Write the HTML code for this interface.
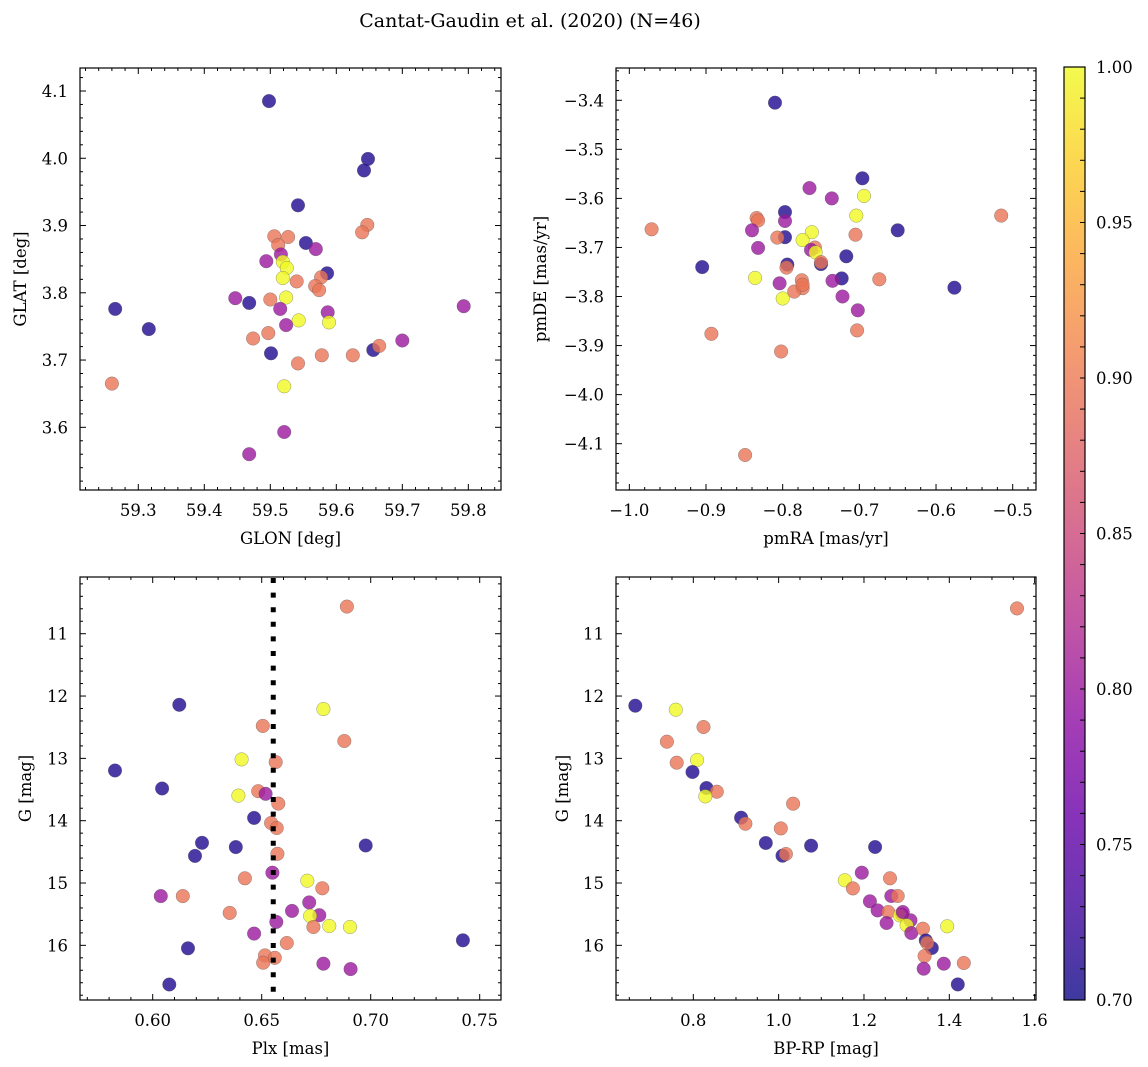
<!DOCTYPE html>
<html><head><meta charset="utf-8">
<style>
html,body{margin:0;padding:0;background:#fff;}
svg{display:block;font-family:"DejaVu Serif","Liberation Serif",serif;}
</style></head>
<body>
<svg id="fig" width="1148" height="1067" viewBox="0 0 1148 1067" xmlns="http://www.w3.org/2000/svg">
<defs>
<linearGradient id="cbgrad" x1="0" y1="1" x2="0" y2="0">
<stop offset="0" stop-color="#0d0887"/><stop offset="0.1" stop-color="#41049d"/><stop offset="0.2" stop-color="#6a00a8"/><stop offset="0.3" stop-color="#8f0da4"/><stop offset="0.4" stop-color="#b12a90"/><stop offset="0.5" stop-color="#cc4778"/><stop offset="0.6" stop-color="#e16462"/><stop offset="0.7" stop-color="#f2844b"/><stop offset="0.8" stop-color="#fca636"/><stop offset="0.9" stop-color="#fcce25"/><stop offset="1" stop-color="#f0f921"/>
</linearGradient>
</defs>
<text x="530" y="27" text-anchor="middle" font-size="19">Cantat-Gaudin et al. (2020) (N=46)</text>
</svg>
<script>
// ---- data: top-left (GLON vs GLAT)
const tlGlon=[59.506,59.527,59.512,59.554,59.569,59.516,59.494,59.519,59.525,59.519,59.540,59.586,59.577,59.568,59.574,59.647,59.639,59.447,59.468,59.500,59.524,59.515,59.587,59.589,59.543,59.524,59.497,59.474,59.501,59.542,59.578,59.625,59.656,59.665,59.700,59.498,59.648,59.642,59.265,59.316,59.260,59.521,59.521,59.468,59.793,59.542];
const tlGlat=[3.884,3.883,3.871,3.874,3.865,3.857,3.847,3.846,3.837,3.822,3.817,3.829,3.823,3.810,3.804,3.901,3.890,3.792,3.785,3.790,3.793,3.776,3.771,3.756,3.759,3.752,3.740,3.732,3.710,3.695,3.707,3.707,3.715,3.721,3.729,4.085,3.999,3.982,3.776,3.746,3.665,3.661,3.593,3.560,3.780,3.930];
const tlProb=[0.895,0.895,0.895,0.71,0.8,0.8,0.8,1.0,1.0,1.0,0.895,0.71,0.895,0.895,0.895,0.895,0.895,0.8,0.71,0.895,1.0,0.8,0.8,1.0,1.0,0.8,0.895,0.895,0.71,0.895,0.895,0.895,0.71,0.895,0.8,0.71,0.71,0.71,0.71,0.71,0.895,1.0,0.8,0.8,0.8,0.71];
// ---- data: top-right (pmRA vs pmDE)
const trPmra=[-0.810,-0.696,-0.765,-0.736,-0.694,-0.704,-0.515,-0.797,-0.797,-0.834,-0.832,-0.971,-0.840,-0.650,-0.797,-0.807,-0.705,-0.762,-0.774,-0.758,-0.763,-0.757,-0.832,-0.717,-0.750,-0.750,-0.794,-0.795,-0.905,-0.836,-0.723,-0.735,-0.674,-0.576,-0.804,-0.775,-0.774,-0.785,-0.800,-0.722,-0.702,-0.703,-0.893,-0.802,-0.849,-0.774];
const trPmde=[-3.405,-3.559,-3.579,-3.600,-3.595,-3.635,-3.635,-3.628,-3.646,-3.640,-3.645,-3.663,-3.665,-3.665,-3.679,-3.680,-3.674,-3.669,-3.685,-3.700,-3.705,-3.710,-3.701,-3.718,-3.734,-3.730,-3.735,-3.741,-3.740,-3.762,-3.763,-3.768,-3.765,-3.782,-3.773,-3.767,-3.783,-3.790,-3.804,-3.800,-3.828,-3.869,-3.876,-3.912,-4.123,-3.776];
const trProb=[0.71,0.71,0.8,0.8,1.0,1.0,0.895,0.71,0.8,0.895,0.895,0.895,0.8,0.71,0.71,0.895,0.895,1.0,1.0,0.895,0.8,1.0,0.8,0.71,0.71,0.895,0.71,0.895,0.71,1.0,0.71,0.8,0.895,0.71,0.8,0.895,0.895,0.895,1.0,0.8,0.8,0.895,0.895,0.895,0.895,0.895];
// ---- data: bottom-left (Plx vs G)
const blPlx=[0.6122,0.6783,0.6505,0.6879,0.6408,0.6564,0.6043,0.6393,0.6484,0.6518,0.6576,0.6465,0.6543,0.6569,0.6226,0.6194,0.6381,0.6977,0.6572,0.6549,0.6423,0.6709,0.6778,0.6037,0.6138,0.6718,0.6639,0.6353,0.6764,0.6722,0.6567,0.6737,0.6810,0.6905,0.6465,0.6615,0.6162,0.6515,0.6507,0.6783,0.6908,0.6076,0.6891,0.5827,0.7423,0.6560];
const blG=[12.140,12.210,12.479,12.721,13.016,13.060,13.484,13.597,13.527,13.569,13.726,13.956,14.037,14.118,14.355,14.565,14.424,14.398,14.532,14.834,14.924,14.963,15.085,15.210,15.210,15.311,15.447,15.479,15.516,15.527,15.624,15.705,15.689,15.705,15.811,15.963,16.048,16.161,16.279,16.295,16.382,16.629,10.565,13.194,15.919,16.200];
const blProb=[0.71,1.0,0.895,0.895,1.0,0.895,0.71,1.0,0.895,0.8,0.895,0.71,0.895,0.895,0.71,0.71,0.71,0.71,0.895,0.8,0.895,1.0,0.895,0.8,0.895,0.8,0.8,0.895,0.8,1.0,0.8,0.895,1.0,1.0,0.8,0.895,0.71,0.895,0.895,0.8,0.8,0.71,0.895,0.71,0.71,0.895];
const plxMean=[0.6553];
// ---- data: bottom-right (BP-RP vs G)
const brColor=[1.5586,0.664,0.759,0.824,0.738,0.761,0.809,0.798,0.831,0.855,0.828,1.034,0.912,0.922,1.005,0.970,1.076,1.226,1.009,1.017,1.195,1.155,1.261,1.174,1.264,1.279,1.214,1.232,1.257,1.289,1.284,1.309,1.253,1.300,1.395,1.311,1.338,1.345,1.359,1.348,1.342,1.387,1.434,1.340,1.420,1.291];
const brG=[10.594,12.155,12.219,12.497,12.733,13.070,13.027,13.219,13.476,13.535,13.610,13.727,13.952,14.048,14.123,14.358,14.401,14.422,14.561,14.535,14.834,14.957,14.925,15.086,15.209,15.209,15.294,15.439,15.465,15.503,15.519,15.599,15.642,15.679,15.695,15.802,15.733,15.920,16.043,15.963,16.171,16.294,16.283,16.374,16.626,15.465];
const brProb=[0.895,0.71,1.0,0.895,0.895,0.895,1.0,0.71,0.71,0.895,1.0,0.895,0.71,0.895,0.895,0.71,0.71,0.71,0.71,0.895,0.8,1.0,0.895,0.895,0.8,0.895,0.8,0.8,0.895,0.8,1.0,0.8,0.8,1.0,1.0,0.8,0.895,0.71,0.71,0.895,0.895,0.8,0.895,0.8,0.71,0.8];
// ---- colorbar ticks
const cbTicks=[0.70,0.75,0.80,0.85,0.90,0.95,1.00];

const NS="http://www.w3.org/2000/svg";
const svg=document.getElementById('fig');
const FS=16.5;
const PL=["#0d0887","#41049d","#6a00a8","#8f0da4","#b12a90","#cc4778","#e16462","#f2844b","#fca636","#fcce25","#f0f921"];
function hex(h){return [parseInt(h.substr(1,2),16),parseInt(h.substr(3,2),16),parseInt(h.substr(5,2),16)];}
function cmap(v){let t=(v-0.7)/0.3;t=Math.max(0,Math.min(1,t));const f=t*10;const i=Math.min(9,Math.floor(f));const r=f-i;const a=hex(PL[i]),b=hex(PL[i+1]);
  return 'rgb('+a.map((c,k)=>Math.round(c+(b[k]-c)*r)).join(',')+')';}
function el(tag,attrs,parent){const e=document.createElementNS(NS,tag);for(const k in attrs)e.setAttribute(k,attrs[k]);(parent||svg).appendChild(e);return e;}
function fmt(v,d){const s=v.toFixed(d);return s.replace('-','\u2212');}

function panel(cfg){
  const g=el('g',{});
  
  
  const W=cfg.x1-cfg.x0,H=cfg.y1-cfg.y0;
  const sx=v=>cfg.x0+(v-cfg.xmin)/(cfg.xmax-cfg.xmin)*W;
  const sy=cfg.invert?(v=>cfg.y0+(v-cfg.ymin)/(cfg.ymax-cfg.ymin)*H):(v=>cfg.y1-(v-cfg.ymin)/(cfg.ymax-cfg.ymin)*H);
  const pg=el('g',{},g);
  
  
  for(let i=0;i<cfg.xs.length;i++){
    const c=el('circle',{cx:sx(cfg.xs[i]).toFixed(1),cy:sy(cfg.ys[i]).toFixed(1),r:6.8,fill:cmap(cfg.ps[i]),'fill-opacity':0.8,stroke:'#555','stroke-opacity':0.6,'stroke-width':0.5},pg);
    
    
  }
  if(cfg.vline){
    for(const v of cfg.vline){
      const l=el('line',{x1:sx(v),x2:sx(v),y1:cfg.y0+1,y2:cfg.y1,stroke:'#000','stroke-width':5,'stroke-dasharray':'5 9.6'},g);
      
      
    }
  }
  const tg=el('g',{stroke:'#000','stroke-width':1},g);
  
  
  const eps=1e-9;
  const n0=Math.ceil(cfg.xmin/cfg.xminor-eps),n1=Math.floor(cfg.xmax/cfg.xminor+eps);
  for(let n=n0;n<=n1;n++){const v=n*cfg.xminor;const major=Math.abs(v/cfg.xmajor-Math.round(v/cfg.xmajor))<1e-6;const L=major?6:3;const x=sx(v);
    el('line',{x1:x,x2:x,y1:cfg.y1,y2:cfg.y1-L},tg);el('line',{x1:x,x2:x,y1:cfg.y0,y2:cfg.y0+L},tg);
    if(major){const t=el('text',{x:x,y:cfg.y1+26,'text-anchor':'middle','font-size':FS,stroke:'none',fill:'#000'},g);t.textContent=fmt(v,cfg.xdec);
      
      }
  }
  const m0=Math.ceil(Math.min(cfg.ymin,cfg.ymax)/cfg.yminor-eps),m1=Math.floor(Math.max(cfg.ymin,cfg.ymax)/cfg.yminor+eps);
  for(let n=m0;n<=m1;n++){const v=n*cfg.yminor;const major=Math.abs(v/cfg.ymajor-Math.round(v/cfg.ymajor))<1e-6;const L=major?6:3;const y=sy(v);
    el('line',{x1:cfg.x0,x2:cfg.x0+L,y1:y,y2:y},tg);el('line',{x1:cfg.x1,x2:cfg.x1-L,y1:y,y2:y},tg);
    if(major){const t=el('text',{x:cfg.x0-12,y:y+6,'text-anchor':'end','font-size':FS,stroke:'none',fill:'#000'},g);t.textContent=fmt(v,cfg.ydec);
      
      }
  }
  const fr=el('rect',{x:cfg.x0,y:cfg.y0,width:W,height:H,fill:'none',stroke:'#000','stroke-width':1.2},g);
  
  
  const xl=el('text',{x:(cfg.x0+cfg.x1)/2,y:cfg.y1+54,'text-anchor':'middle','font-size':FS},g);xl.textContent=cfg.xlabel;
  
  
  const cy=(cfg.y0+cfg.y1)/2;
  const yl=el('text',{x:cfg.ylx,y:cy,'text-anchor':'middle','font-size':FS,transform:'rotate(-90 '+cfg.ylx+' '+cy+')'},g);yl.textContent=cfg.ylabel;
  yl.setAttribute('dy','6');
  
  
}

panel({name:'glon-glat-panel',x0:80,x1:501,y0:68,y1:490,xmin:59.2117,xmax:59.8495,ymin:3.5068,ymax:4.1342,xs:tlGlon,ys:tlGlat,ps:tlProb,xmajor:0.1,xminor:0.02,ymajor:0.1,yminor:0.02,xdec:1,ydec:1,xlabel:'GLON [deg]',ylabel:'GLAT [deg]',ylx:20});
panel({name:'pm-panel',x0:616,x1:1036,y0:68,y1:490,xmin:-1.0174,xmax:-0.4696,ymin:-4.1944,ymax:-3.3342,xs:trPmra,ys:trPmde,ps:trProb,xmajor:0.1,xminor:0.02,ymajor:0.1,yminor:0.02,xdec:1,ydec:1,xlabel:'pmRA [mas/yr]',ylabel:'pmDE [mas/yr]',ylx:540});
panel({name:'plx-g-panel',x0:80,x1:501,y0:577,y1:1000,xmin:0.56665,xmax:0.75977,ymin:10.09,ymax:16.877,invert:true,xs:blPlx,ys:blG,ps:blProb,vline:plxMean,xmajor:0.05,xminor:0.01,ymajor:1,yminor:0.2,xdec:2,ydec:0,xlabel:'Plx [mas]',ylabel:'G [mag]',ylx:25});
panel({name:'cmd-panel',x0:616,x1:1036,y0:577,y1:1000,xmin:0.6188,xmax:1.6032,ymin:10.09,ymax:16.877,invert:true,xs:brColor,ys:brG,ps:brProb,xmajor:0.2,xminor:0.05,ymajor:1,yminor:0.2,xdec:1,ydec:0,xlabel:'BP-RP [mag]',ylabel:'G [mag]',ylx:562});

(function(){
  const g=el('g',{});
  
  
  const x0=1064,x1=1085,y0=67,y1=1000,vmin=0.7,vmax=1.0;
  const sy=v=>y1-(v-vmin)/(vmax-vmin)*(y1-y0);
  el('rect',{x:x0,y:y0,width:x1-x0,height:y1-y0,fill:'url(#cbgrad)','fill-opacity':0.8},g);
  for(let n=70;n<=100;n++){const v=n/100;const y=sy(v);el('line',{x1:x1,x2:x1-5,y1:y,y2:y,stroke:'#000','stroke-width':1},g);}
  for(const v of cbTicks){const y=sy(v);
    const t=el('text',{x:1096,y:y+6,'font-size':FS},g);t.textContent=v.toFixed(2);
    
    }
  el('rect',{x:x0,y:y0,width:x1-x0,height:y1-y0,fill:'none',stroke:'#000','stroke-width':1.2},g);
})();
</script>
</body></html>
